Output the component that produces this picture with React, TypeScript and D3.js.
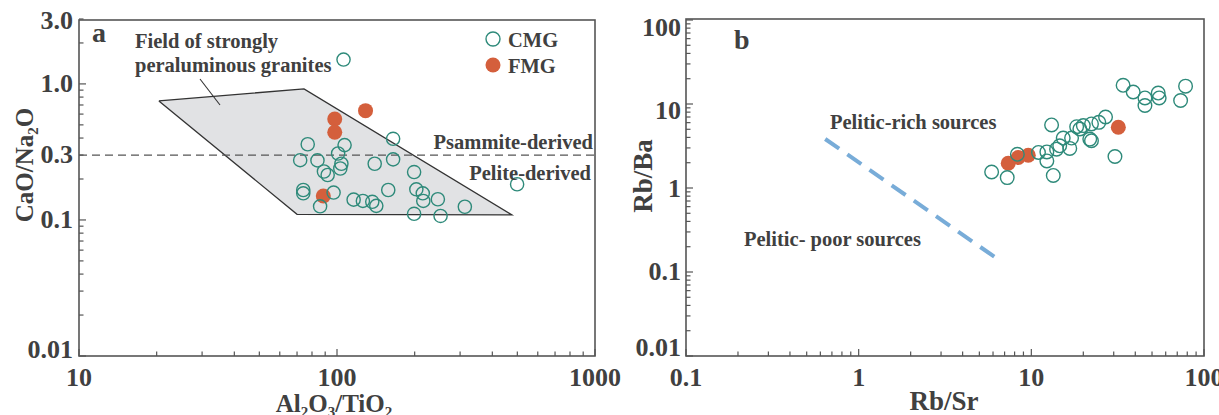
import React from "react";
import * as d3 from "d3";

// ---------- Data ----------
// Panel a: Al2O3/TiO2 vs CaO/Na2O
const cmgA_x = [106, 77, 72, 84, 101, 107, 104, 103, 89, 92, 165, 165, 140, 199, 499, 74, 74, 97, 86, 116, 126, 137, 142, 158, 203, 215, 216, 246, 313, 199, 252];
const cmgA_y = [1.51, 0.36, 0.275, 0.274, 0.308, 0.355, 0.259, 0.239, 0.227, 0.214, 0.395, 0.279, 0.259, 0.225, 0.183, 0.166, 0.157, 0.159, 0.126, 0.141, 0.138, 0.136, 0.127, 0.166, 0.168, 0.157, 0.138, 0.142, 0.125, 0.111, 0.107];
const fmgA_x = [129, 98, 98, 88.5];
const fmgA_y = [0.636, 0.552, 0.441, 0.15];
const fieldA_x = [20.4, 74.5, 476, 70];
const fieldA_y = [0.75, 0.92, 0.109, 0.11];
const dividerA = 0.3;

// Panel b: Rb/Sr vs Rb/Ba
const cmgB_x = [34.0, 38.9, 45.5, 45.5, 54.3, 55.0, 78.2, 73.2, 26.9, 24.6, 22.3, 20.0, 18.3, 19.1, 13.1, 21.8, 22.3, 17.1, 15.3, 14.6, 16.7, 14.0, 12.3, 11.0, 12.3, 8.3, 30.5, 13.4, 5.89, 7.25];
const cmgB_y = [16.7, 13.9, 11.8, 9.6, 13.5, 11.8, 16.3, 11.0, 7.0, 6.05, 5.79, 5.53, 5.37, 5.04, 5.63, 3.82, 3.65, 3.93, 3.93, 3.18, 2.96, 2.9, 2.69, 2.65, 2.1, 2.52, 2.37, 1.41, 1.55, 1.33];
const fmgB_x = [31.9, 7.35, 8.4, 9.6];
const fmgB_y = [5.28, 1.97, 2.31, 2.45];
const lineB_x = [0.64, 6.1];
const lineB_y = [3.83, 0.152];

// Tick labels
const aXTicks = [10, 100, 1000];
const aXLabels = ["10", "100", "1000"];
const aYTicks = [3, 1, 0.3, 0.1, 0.01];
const aYLabels = ["3.0", "1.0", "0.3", "0.1", "0.01"];
const bXTicks = [0.1, 1, 10, 100];
const bXLabels = ["0.1", "1", "10", "100"];
const bYTicks = [100, 10, 1, 0.1, 0.01];
const bYLabels = ["100", "10", "1", "0.1", "0.01"];

// ---------- Layout ----------
const W = 1219, H = 415;
const TXT = "#404040";
const AX = "#555555";
const TEAL = "#2e8a7a";
const ORANGE = "#d45f3c";
const FONT = "'Liberation Serif', 'Times New Roman', Times, serif";
const aYLabelDy = [10, 8, 8, 8, 2];
const bYLabelDy = [16, 15, 9, 8, 0];
const ANN = 20.5;

function minorTicks(lo: number, hi: number): number[] {
  const out: number[] = [];
  const e0 = Math.floor(Math.log10(lo)) - 1;
  const e1 = Math.ceil(Math.log10(hi)) + 1;
  for (let e = e0; e <= e1; e++) {
    for (let k = 1; k <= 9; k++) {
      const v = k * Math.pow(10, e);
      if (v >= lo * 0.9999 && v <= hi * 1.0001) out.push(v);
    }
  }
  return out;
}

function isPow10(v: number) {
  const l = Math.log10(v);
  return Math.abs(l - Math.round(l)) < 1e-6;
}

type AxesProps = {
  x: d3.ScaleLogarithmic<number, number>;
  y: d3.ScaleLogarithmic<number, number>;
  top: number;
  xTicks: number[];
  xLabels: string[];
  yTicks: number[];
  yLabels: string[];
  yDy: number[];
  yLabelRight: number;
};

function Axes({ x, y, top, xTicks, xLabels, yTicks, yLabels, yDy, yLabelRight }: AxesProps) {
  const [x0, x1] = x.range();
  const y0 = y.range()[0];
  const xd = x.domain();
  const yd = y.domain();
  const xm = minorTicks(xd[0], xd[1]);
  const ym = minorTicks(yd[0], yd[1]);
  return (
    <g>
      <rect x={x0} y={top} width={x1 - x0} height={y0 - top} fill="none" stroke={AX} strokeWidth={1.6} />
      {xm.map((v, i) => {
        const len = isPow10(v) ? 7 : 4.5;
        return <line key={"xm" + i} x1={x(v)} x2={x(v)} y1={y0} y2={y0 - len} stroke={AX} strokeWidth={1.2} />;
      })}
      {ym.map((v, i) => {
        const len = isPow10(v) ? 7 : 4.5;
        return <line key={"ym" + i} x1={x0} x2={x0 + len} y1={y(v)} y2={y(v)} stroke={AX} strokeWidth={1.2} />;
      })}
      {xTicks.map((v, i) => (
        <text key={"xl" + i} x={x(v)} y={386} textAnchor="middle" fontSize={26} fontWeight="bold" fill={TXT} fontFamily={FONT}>
          {xLabels[i]}
        </text>
      ))}
      {yTicks.map((v, i) => (
        <text key={"yl" + i} x={yLabelRight} y={y(v) + yDy[i]} textAnchor="end" fontSize={26} fontWeight="bold" fill={TXT} fontFamily={FONT}>
          {yLabels[i]}
        </text>
      ))}
    </g>
  );
}

export default function App() {
  const xa = d3.scaleLog().domain([10, 1000]).range([79, 595]);
  const ya = d3.scaleLog().domain([0.01, 3]).range([356, 19]);
  const xb = d3.scaleLog().domain([0.1, 100]).range([686, 1204]);
  const yb = d3.scaleLog().domain([0.01, 100]).range([356, 20]);

  const fieldPts = fieldA_x.map((v, i) => [xa(v), ya(fieldA_y[i])] as [number, number]);
  const fieldPath = d3.line()(fieldPts.concat([fieldPts[0]])) || "";
  const bLine = d3.line()(lineB_x.map((v, i) => [xb(v), yb(lineB_y[i])] as [number, number])) || "";

  const common = { fontFamily: FONT, fontWeight: "bold" as const, fill: TXT };

  return (
    <svg width={W} height={H} viewBox={`0 0 ${W} ${H}`} style={{ position: "absolute", left: 0, top: 0, background: "#fff" }}>
      <rect x={0} y={0} width={W} height={H} fill="#fff" />
      {/* ---------- Panel a ---------- */}
      <path d={fieldPath} fill="#e1e2e4" stroke="#333" strokeWidth={1.3} strokeLinejoin="miter" />
      <line x1={xa(10)} x2={xa(1000)} y1={ya(dividerA)} y2={ya(dividerA)} stroke="#555" strokeWidth={1.2} strokeDasharray="8,5" />
      <line x1={200} y1={79} x2={220} y2={105} stroke="#333" strokeWidth={1.1} />
      {fmgA_x.map((v, i) => (
        <circle key={"fa" + i} cx={xa(v)} cy={ya(fmgA_y[i])} r={7.5} fill={ORANGE} />
      ))}
      {cmgA_x.map((v, i) => (
        <circle key={"ca" + i} cx={xa(v)} cy={ya(cmgA_y[i])} r={6.6} fill="none" stroke={TEAL} strokeWidth={1.4} />
      ))}
      <Axes x={xa} y={ya} top={20} xTicks={aXTicks} xLabels={aXLabels} yTicks={aYTicks} yLabels={aYLabels} yDy={aYLabelDy} yLabelRight={73} />

      <text x={92} y={42} fontSize={28} {...common}>a</text>
      <text x={135} y={48} fontSize={ANN} {...common}>Field of strongly</text>
      <text x={135} y={72} fontSize={ANN} {...common}>peraluminous granites</text>
      <text x={593} y={149} fontSize={ANN} textAnchor="end" {...common}>Psammite-derived</text>
      <text x={591} y={180} fontSize={ANN} textAnchor="end" {...common}>Pelite-derived</text>

      <circle cx={493} cy={39} r={7} fill="none" stroke={TEAL} strokeWidth={1.4} />
      <text x={508} y={47} fontSize={20.5} {...common}>CMG</text>
      <circle cx={493} cy={65} r={7.5} fill={ORANGE} />
      <text x={508} y={73} fontSize={20.5} {...common}>FMG</text>

      <text transform="translate(33,165) rotate(-90)" textAnchor="middle" fontSize={25} {...common}>
        CaO/Na<tspan fontSize={15} dy={5}>2</tspan><tspan dy={-5}>O</tspan>
      </text>
      <text x={334} y={412} textAnchor="middle" fontSize={25} {...common}>
        Al<tspan fontSize={15} dy={5}>2</tspan><tspan dy={-5}>O</tspan><tspan fontSize={15} dy={5}>3</tspan><tspan dy={-5}>/TiO</tspan><tspan fontSize={15} dy={5}>2</tspan>
      </text>

      {/* ---------- Panel b ---------- */}
      <path d={bLine} fill="none" stroke="#78acd8" strokeWidth={4} strokeDasharray="17,10" />
      {fmgB_x.map((v, i) => (
        <circle key={"fb" + i} cx={xb(v)} cy={yb(fmgB_y[i])} r={7.5} fill={ORANGE} />
      ))}
      {cmgB_x.map((v, i) => (
        <circle key={"cb" + i} cx={xb(v)} cy={yb(cmgB_y[i])} r={6.8} fill="none" stroke={TEAL} strokeWidth={1.4} />
      ))}
      <Axes x={xb} y={yb} top={19} xTicks={bXTicks} xLabels={bXLabels} yTicks={bYTicks} yLabels={bYLabels} yDy={bYLabelDy} yLabelRight={681} />

      <text x={734} y={49} fontSize={28} {...common}>b</text>
      <text x={830} y={129} fontSize={ANN} {...common}>Pelitic-rich sources</text>
      <text x={744} y={246} fontSize={ANN} {...common}>Pelitic- poor sources</text>

      <text transform="translate(652,176) rotate(-90)" textAnchor="middle" fontSize={27} {...common}>Rb/Ba</text>
      <text x={944} y={410} textAnchor="middle" fontSize={27} {...common}>Rb/Sr</text>
    </svg>
  );
}
